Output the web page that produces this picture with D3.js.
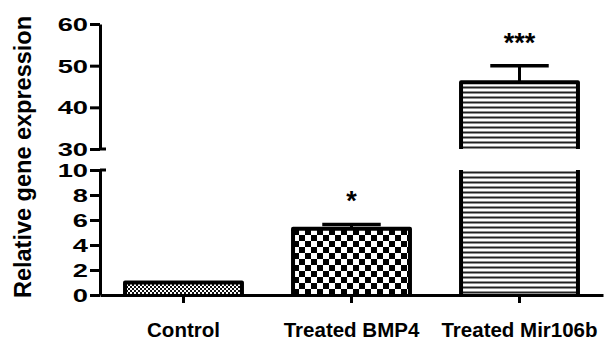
<!DOCTYPE html>
<html>
<head>
<meta charset="utf-8">
<script src="https://cdn.jsdelivr.net/npm/d3@7"></script>
<style>
  body { margin: 0; background: #fff; }
  svg { display: block; font-family: "Liberation Sans", Arial, sans-serif; }
</style>
</head>
<body>
<div id="chart"></div>
<script>
const categories = ["Control", "Treated BMP4", "Treated Mir106b"];
const means = [1.0, 5.3, 46];
const errors = [0, 0.35, 4];
const stars = ["", "*", "***"];
const patterns = ["dots", "checks", "lines"];
const lowTicks = [0, 2, 4, 6, 8, 10];
const highTicks = [30, 40, 50, 60];

const width = 610;
const height = 342;

const svg = d3.select('#chart')
  .append('svg')
  .attr('width', width)
  .attr('height', height)

// patterns for the bar fills
const defs = svg.append('defs')

const dots = defs.append('pattern')
  .attr('id', 'dots')
  .attr('patternUnits', 'userSpaceOnUse')
  .attr('width', 4).attr('height', 4)
dots.append('rect').attr('width', 4).attr('height', 4).attr('fill', '#fff')
dots.append('rect').attr('width', 2).attr('height', 2).attr('fill', '#111')
dots.append('rect').attr('x', 2).attr('y', 2).attr('width', 2).attr('height', 2).attr('fill', '#111')

const checks = defs.append('pattern')
  .attr('id', 'checks')
  .attr('patternUnits', 'userSpaceOnUse')
  .attr('x', 293).attr('y', 1)
  .attr('width', 12).attr('height', 12)
checks.append('rect').attr('width', 12).attr('height', 12).attr('fill', '#fff')
checks.append('rect').attr('width', 6).attr('height', 6).attr('fill', '#000')
checks.append('rect').attr('x', 6).attr('y', 6).attr('width', 6).attr('height', 6).attr('fill', '#000')

const lines = defs.append('pattern')
  .attr('id', 'lines')
  .attr('patternUnits', 'userSpaceOnUse')
  .attr('width', 10).attr('height', 5)
lines.append('rect').attr('width', 10).attr('height', 5).attr('fill', '#fff')
lines.append('line').attr('x1', 0).attr('x2', 10).attr('y1', 2.5).attr('y2', 2.5)
  .attr('stroke', '#222').attr('stroke-width', 2)

// scales: broken y axis, two segments
const yLow = d3.scaleLinear().domain([0, 10]).range([295, 170])
const yHigh = d3.scaleLinear().domain([30, 60]).range([149, 24])

const xScale = d3.scaleBand()
  .domain(categories)
  .range([100, 603])
  .paddingInner(0.304)
  .paddingOuter(0.149)

const yPos = (v) => v <= 10 ? yLow(v) : yHigh(v);

// bars
const bars = svg.append('g')
categories.forEach((c, i) => {
  const x0 = xScale(c);
  const x1 = x0 + xScale.bandwidth();
  const segs = means[i] <= 10
    ? [[yLow(0), yLow(means[i]), true]]
    : [[yLow(0), yLow(10), false], [yHigh(30), yHigh(means[i]), true]];
  segs.forEach(([yb, yt, top]) => {
    bars.append('rect')
      .attr('x', x0).attr('y', yt)
      .attr('width', x1 - x0).attr('height', yb - yt)
      .attr('fill', `url(#${patterns[i]})`)
    const p = d3.path();
    p.moveTo(x0, yb);
    p.lineTo(x0, yt);
    if (top) p.lineTo(x1, yt); else p.moveTo(x1, yt);
    p.lineTo(x1, yb);
    bars.append('path')
      .attr('d', p.toString())
      .attr('fill', 'none')
      .attr('stroke', '#000')
      .attr('stroke-width', 4)
      .attr('stroke-linejoin', 'round')
  });
});

// error bars
categories.forEach((c, i) => {
  if (!errors[i]) return;
  const cx = xScale(c) + xScale.bandwidth() / 2;
  const hw = xScale.bandwidth() / 4;
  const yt = yPos(means[i] + errors[i]);
  svg.append('line')
    .attr('x1', cx).attr('x2', cx)
    .attr('y1', yPos(means[i])).attr('y2', yt)
    .attr('stroke', '#000').attr('stroke-width', 3)
  svg.append('line')
    .attr('x1', cx - hw).attr('x2', cx + hw)
    .attr('y1', yt).attr('y2', yt)
    .attr('stroke', '#000').attr('stroke-width', 3.5)
  svg.append('text')
    .attr('x', cx)
    .attr('y', yt - 14)
    .attr('text-anchor', 'middle')
    .style('font-size', '27px')
    .style('font-weight', 'bold')
    .text(stars[i])
});

// y axis, two pieces
const styleAxis = (g) => {
  g.select('.domain').attr('stroke-width', 3)
  g.selectAll('.tick line').attr('stroke-width', 3)
  g.selectAll('.tick text')
    .attr('x', 0)
    .attr('dy', '0.36em')
    .attr('transform', 'translate(-12,0) scale(1.3,0.88)')
    .style('font-size', '21px')
    .style('font-weight', 'bold')
    .attr('fill', '#000')
    .attr('font-family', null)
};

svg.append('g')
  .attr('transform', 'translate(100,0)')
  .call(d3.axisLeft(yLow).tickValues(lowTicks).tickSize(10).tickSizeOuter(0))
  .call(styleAxis)

svg.append('g')
  .attr('transform', 'translate(100,0)')
  .call(d3.axisLeft(yHigh).tickValues(highTicks).tickSize(10).tickSizeOuter(0))
  .call(styleAxis)

// break marks reach a bit right of the axis
svg.append('g')
  .selectAll('line')
  .data([yHigh(30), yLow(10)])
  .enter()
  .append('line')
  .attr('x1', 100).attr('x2', 106)
  .attr('y1', d => d).attr('y2', d => d)
  .attr('stroke', '#000').attr('stroke-width', 3)

// x axis
const xAxis = svg.append('g')
  .attr('transform', `translate(0, ${yLow(0)})`)
  .call(d3.axisBottom(xScale).tickSize(8).tickSizeOuter(0).tickPadding(19))
xAxis.select('.domain').attr('stroke-width', 3)
xAxis.selectAll('.tick line').attr('stroke-width', 3)
xAxis.selectAll('.tick text')
  .style('font-size', '20.5px')
  .style('font-weight', 'bold')
  .attr('fill', '#000')
  .attr('font-family', null)

// y title
svg.append('text')
  .attr('transform', 'translate(31, 157) rotate(-90)')
  .attr('text-anchor', 'middle')
  .style('font-size', '23.5px')
  .style('font-weight', 'bold')
  .text('Relative gene expression')
</script>
</body>
</html>
